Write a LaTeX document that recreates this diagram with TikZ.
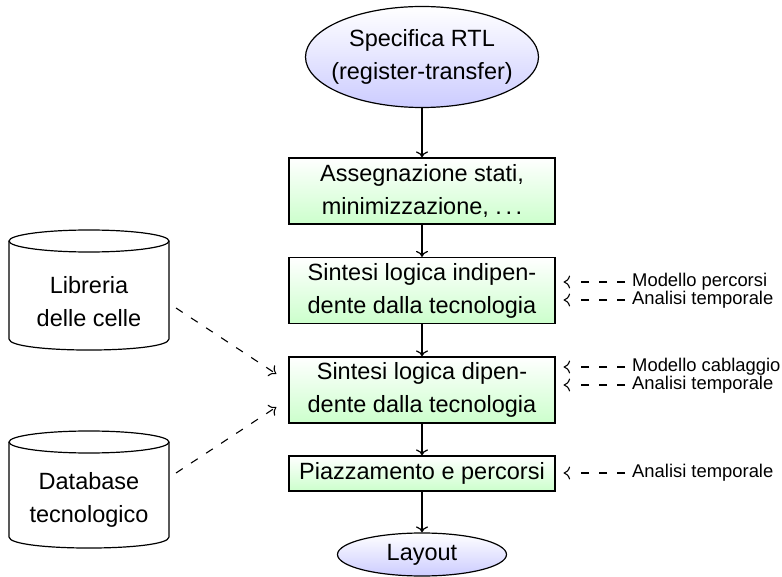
\documentclass[tikz,border=0pt]{standalone}
\usepackage{fontspec}
\setmainfont{Liberation Sans}
\usetikzlibrary{shapes.geometric,arrows.meta,calc}
\begin{document}
\begin{tikzpicture}[x=1pt,y=-1pt,
  font=\fontsize{23.5}{33}\selectfont,
  lw/.style={line width=1.2pt},
  stepbox/.style={draw, line width=1.2pt, minimum width=266pt, minimum height=66pt,
    align=center, top color=white, bottom color=green!20, inner sep=2pt},
  term/.style={ellipse, draw, line width=1.2pt, align=center, top color=white,
    bottom color=blue!20, inner xsep=-15pt, inner ysep=0pt},
  flow/.style={line width=1.2pt, -{To[length=6pt,width=12pt]}},
  hint/.style={line width=1.1pt, dash pattern=on 8pt off 10pt, -{To[length=6.5pt,width=13pt]}},
  hintr/.style={line width=1.1pt, dash pattern=on 8pt off 10pt on 8pt off 10pt on 8pt off 40pt,
    -{To[length=6.5pt,width=13pt]}},
  note/.style={font=\fontsize{18.4}{22}\selectfont, anchor=west, inner xsep=7pt, inner ysep=0pt},
  dbtext/.style={align=center, inner sep=2pt},
]
\useasboundingbox (0,0) rectangle (782,577);

% main column
\node[term, minimum width=233pt, minimum height=101pt] (rtl) at (422,57) {Specifica RTL\\(register-transfer)};
\node[stepbox] (b1) at (422,191) {Assegnazione stati,\\minimizzazione, .\kern.15em.\kern.15em.};
\node[stepbox] (b2) at (422,290.5) {Sintesi logica indipen-\\dente dalla tecnologia};
\node[stepbox] (b3) at (422,390) {Sintesi logica dipen-\\dente dalla tecnologia};
\node[stepbox, minimum height=35pt] (b4) at (422,473.5) {Piazzamento e percorsi};
\node[term, minimum width=169pt, minimum height=43pt] (lay) at (422,554.5) {Layout};

\draw[flow] (rtl) -- (b1);
\draw[flow] (b1) -- (b2);
\draw[flow] (b2) -- (b3);
\draw[flow] (b3) -- (b4);
\draw[flow] (b4) -- (lay);

% cylinders
\draw[lw, fill=white] (9,241) -- (9,339) .. controls (9,353.7) and (169,353.7) .. (169,339) -- (169,241);
\draw[lw] (89,241) ellipse [x radius=80, y radius=11];
\node[dbtext] (lib) at (89,302) {Libreria\\delle celle};

\draw[lw, fill=white] (9,442) -- (9,537) .. controls (9,551.7) and (169,551.7) .. (169,537) -- (169,442);
\draw[lw] (89,442) ellipse [x radius=80, y radius=11];
\node[dbtext] (db) at (89,500) {Database\\tecnologico};

\coordinate (libout) at ($(lib.center)+(87,6)$);
\coordinate (dbout) at ($(db.center)+(87,-27)$);
\coordinate (b3in1) at ($(b3.west)+(-12,-16)$);
\coordinate (b3in2) at ($(b3.west)+(-12,17)$);
\draw[hint] (libout) -- (b3in1);
\draw[hint] (dbout) -- (b3in2);

% right notes
\node[note] (m1) at (625,282) {Modello percorsi};
\node[note] (m2) at (625,300) {Analisi temporale};
\node[note] (m3) at (625,367) {Modello cablaggio};
\node[note] (m4) at (625,385) {Analisi temporale};
\node[note] (m5) at (625,473) {Analisi temporale};

\draw[hintr] (m1.west) -- ($(b2.east |- m1.west)+(8,0)$);
\draw[hintr] (m2.west) -- ($(b2.east |- m2.west)+(8,0)$);
\draw[hintr] (m3.west) -- ($(b3.east |- m3.west)+(8,0)$);
\draw[hintr] (m4.west) -- ($(b3.east |- m4.west)+(8,0)$);
\draw[hintr] (m5.west) -- ($(b4.east |- m5.west)+(8,0)$);
\end{tikzpicture}
\end{document}
